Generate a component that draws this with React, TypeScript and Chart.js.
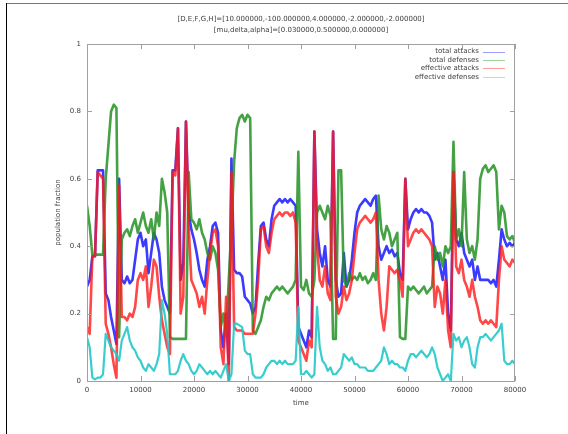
import React, { useEffect, useRef } from "react";
import { Chart, registerables } from "chart.js";
Chart.register(...registerables);

const STEP = 500; // time spacing of the samples below (0 .. 80000)

const totalAttacks = [
  0.28, 0.30, 0.37, 0.37, 0.625, 0.625, 0.625, 0.26, 0.24, 0.19,
  0.15, 0.11, 0.60, 0.30, 0.29, 0.31, 0.29, 0.30, 0.36, 0.42,
  0.44, 0.40, 0.42, 0.32, 0.38, 0.44, 0.42, 0.38, 0.28, 0.24,
  0.22, 0.20, 0.625, 0.625, 0.75, 0.30, 0.35, 0.77, 0.50, 0.45,
  0.42, 0.38, 0.33, 0.30, 0.28, 0.36, 0.40, 0.46, 0.47, 0.44,
  0.15, 0.10, 0.20, 0.05, 0.66, 0.33, 0.32, 0.32, 0.31, 0.25,
  0.24, 0.23, 0.20, 0.22, 0.35, 0.46, 0.47, 0.42, 0.40, 0.48,
  0.52, 0.53, 0.54, 0.53, 0.54, 0.53, 0.54, 0.53, 0.52, 0.16,
  0.14, 0.12, 0.10, 0.15, 0.13, 0.74, 0.45, 0.38, 0.34, 0.40,
  0.30, 0.28, 0.74, 0.30, 0.25, 0.26, 0.38, 0.28, 0.30, 0.36,
  0.44, 0.50, 0.52, 0.53, 0.54, 0.53, 0.52, 0.54, 0.55, 0.40,
  0.36, 0.38, 0.40, 0.38, 0.39, 0.37, 0.38, 0.32, 0.30, 0.60,
  0.45, 0.48, 0.50, 0.51, 0.50, 0.51, 0.50, 0.50, 0.49, 0.47,
  0.36, 0.38, 0.34, 0.30, 0.36, 0.20, 0.15, 0.62, 0.42, 0.40,
  0.44, 0.38, 0.36, 0.34, 0.36, 0.30, 0.34, 0.30, 0.30, 0.30,
  0.30, 0.29, 0.30, 0.28, 0.36, 0.45, 0.42, 0.40, 0.41, 0.40,
  0.41,
];

const totalDefenses = [
  0.52, 0.46, 0.375, 0.375, 0.375, 0.375, 0.375, 0.60, 0.70, 0.80,
  0.82, 0.81, 0.13, 0.42, 0.44, 0.45, 0.43, 0.46, 0.48, 0.44,
  0.47, 0.50, 0.46, 0.44, 0.48, 0.42, 0.50, 0.46, 0.60, 0.56,
  0.50, 0.13, 0.125, 0.125, 0.125, 0.125, 0.125, 0.125, 0.62, 0.48,
  0.47, 0.45, 0.48, 0.44, 0.42, 0.38, 0.36, 0.40, 0.38, 0.33,
  0.16, 0.20, 0.14, 0.30, 0.45, 0.65, 0.75, 0.78, 0.79, 0.77,
  0.79, 0.78, 0.15, 0.14, 0.16, 0.18, 0.22, 0.25, 0.24, 0.26,
  0.27, 0.28, 0.27, 0.28, 0.27, 0.26, 0.27, 0.28, 0.30, 0.68,
  0.28, 0.27, 0.30, 0.26, 0.25, 0.30, 0.50, 0.52, 0.50, 0.48,
  0.52, 0.49, 0.125, 0.125, 0.625, 0.625, 0.30, 0.28, 0.32, 0.30,
  0.31, 0.30, 0.32, 0.30, 0.31, 0.29, 0.30, 0.32, 0.30, 0.55,
  0.45, 0.42, 0.46, 0.44, 0.40, 0.42, 0.44, 0.13, 0.125, 0.125,
  0.28, 0.27, 0.28, 0.27, 0.26, 0.27, 0.28, 0.26, 0.27, 0.28,
  0.40, 0.36, 0.38, 0.34, 0.40, 0.38, 0.40, 0.71, 0.42, 0.45,
  0.40, 0.62, 0.42, 0.38, 0.40, 0.36, 0.42, 0.60, 0.63, 0.64,
  0.62, 0.63, 0.64, 0.62, 0.45, 0.52, 0.50, 0.43, 0.42, 0.43,
  0.41,
];

const effectiveAttacks = [
  0.16, 0.14, 0.37, 0.37, 0.62, 0.61, 0.60, 0.17, 0.14, 0.10,
  0.05, 0.01, 0.58, 0.19, 0.19, 0.18, 0.20, 0.19, 0.22, 0.30,
  0.32, 0.30, 0.34, 0.22, 0.28, 0.36, 0.34, 0.25, 0.18, 0.14,
  0.10, 0.08, 0.62, 0.61, 0.75, 0.20, 0.25, 0.77, 0.46, 0.30,
  0.28, 0.26, 0.22, 0.25, 0.20, 0.30, 0.38, 0.44, 0.45, 0.40,
  0.10, 0.05, 0.25, 0.00, 0.62, 0.16, 0.15, 0.15, 0.15, 0.14,
  0.14, 0.14, 0.14, 0.20, 0.30, 0.45, 0.46, 0.40, 0.38, 0.44,
  0.48, 0.49, 0.50, 0.49, 0.50, 0.50, 0.49, 0.50, 0.47, 0.12,
  0.10, 0.08, 0.06, 0.12, 0.10, 0.74, 0.40, 0.30, 0.28, 0.34,
  0.26, 0.24, 0.74, 0.25, 0.20, 0.22, 0.28, 0.24, 0.26, 0.30,
  0.38, 0.45, 0.47, 0.48, 0.49, 0.48, 0.47, 0.48, 0.50, 0.30,
  0.20, 0.15, 0.22, 0.34, 0.33, 0.32, 0.33, 0.30, 0.25, 0.60,
  0.40, 0.42, 0.44, 0.45, 0.44, 0.45, 0.44, 0.43, 0.42, 0.40,
  0.22, 0.28, 0.26, 0.20, 0.30, 0.15, 0.10, 0.62, 0.34, 0.32,
  0.36, 0.30, 0.28, 0.25, 0.30, 0.25, 0.22, 0.18, 0.17, 0.18,
  0.17, 0.18, 0.17, 0.16, 0.30, 0.40, 0.36, 0.35, 0.34, 0.36,
  0.35,
];

const effectiveDefenses = [
  0.13, 0.10, 0.01, 0.005, 0.01, 0.01, 0.02, 0.14, 0.12, 0.10,
  0.09, 0.08, 0.06, 0.12, 0.14, 0.16, 0.12, 0.10, 0.09, 0.07,
  0.06, 0.04, 0.03, 0.05, 0.04, 0.03, 0.05, 0.08, 0.24, 0.20,
  0.14, 0.02, 0.02, 0.02, 0.03, 0.06, 0.08, 0.06, 0.05, 0.03,
  0.02, 0.03, 0.05, 0.04, 0.03, 0.02, 0.03, 0.02, 0.03, 0.02,
  0.01, 0.03, 0.05, 0.00, 0.02, 0.17, 0.17, 0.165, 0.16, 0.09,
  0.08, 0.08, 0.02, 0.01, 0.01, 0.01, 0.02, 0.04, 0.05, 0.06,
  0.06, 0.05, 0.06, 0.05, 0.06, 0.05, 0.05, 0.05, 0.06, 0.22,
  0.02, 0.02, 0.03, 0.02, 0.01, 0.02, 0.22, 0.10, 0.06, 0.05,
  0.03, 0.04, 0.02, 0.02, 0.03, 0.04, 0.08, 0.07, 0.06, 0.07,
  0.05, 0.05, 0.04, 0.04, 0.04, 0.03, 0.03, 0.03, 0.04, 0.05,
  0.06, 0.10, 0.08, 0.05, 0.06, 0.05, 0.05, 0.04, 0.04, 0.03,
  0.06, 0.08, 0.08, 0.07, 0.08, 0.09, 0.08, 0.07, 0.08, 0.10,
  0.08, 0.04, 0.02, 0.00, 0.01, 0.02, 0.00, 0.14, 0.12, 0.13,
  0.10, 0.12, 0.13, 0.10, 0.05, 0.04, 0.10, 0.13, 0.13, 0.14,
  0.13, 0.12, 0.13, 0.14, 0.15, 0.17, 0.06, 0.05, 0.05, 0.06,
  0.05,
];

const seriesLabels = ["total attacks", "total defenses", "effective attacks", "effective defenses"];
const seriesColors = ["rgba(25,25,255,0.85)", "rgba(35,145,35,0.85)", "rgba(255,25,25,0.8)", "rgba(35,200,200,0.9)"];
const legendColors = ["#9d9dff", "#9fd39f", "#ff9d9d", "#a6e6e6"];
const titleLines = [
  "[D,E,F,G,H]=[10.000000,-100.000000,4.000000,-2.000000,-2.000000]",
  "[mu,delta,alpha]=[0.030000,0.500000,0.000000]",
];
const xTickValues = [0, 10000, 20000, 30000, 40000, 50000, 60000, 70000, 80000];
const yTickValues = [0, 0.2, 0.4, 0.6, 0.8, 1];
const xAxisTitle = "time";
const yAxisTitle = "population fraction";

const FONT = '"DejaVu Sans", sans-serif';
const TEXT = "#404040";

export default function App() {
  const ref = useRef<HTMLCanvasElement>(null);

  useEffect(() => {
    const canvas = ref.current;
    if (!canvas) return;
    const all = [totalAttacks, totalDefenses, effectiveAttacks, effectiveDefenses];
    const toPts = (vals: number[]) => vals.map((v, i) => ({ x: i * STEP, y: v }));

    const gnuplotLook = {
      id: "gnuplotLook",
      afterDraw(chart: any) {
        const { ctx, chartArea: a, scales } = chart;
        ctx.save();
        ctx.strokeStyle = "#a0a0a0";
        ctx.lineWidth = 1;
        ctx.strokeRect(a.left + 0.5, a.top + 0.5, a.right - a.left - 1, a.bottom - a.top);
        ctx.beginPath();
        xTickValues.forEach((v) => {
          const px = Math.round(scales.x.getPixelForValue(v)) + 0.5;
          ctx.moveTo(px, a.bottom);
          ctx.lineTo(px, a.bottom - 5);
          ctx.moveTo(px, a.top);
          ctx.lineTo(px, a.top + 5);
        });
        yTickValues.forEach((v) => {
          const py = Math.round(scales.y.getPixelForValue(v)) + 0.5;
          ctx.moveTo(a.left, py);
          ctx.lineTo(a.left + 5, py);
          ctx.moveTo(a.right, py);
          ctx.lineTo(a.right - 5, py);
        });
        ctx.stroke();

        ctx.fillStyle = TEXT;
        ctx.font = `7px ${FONT}`;
        ctx.textBaseline = "middle";
        ctx.textAlign = "center";
        const cx = (a.left + a.right) / 2;
        ctx.fillText(titleLines[0], cx, 19.5);
        ctx.fillText(titleLines[1], cx, 30);
        ctx.fillText(xAxisTitle, cx, 403);
        ctx.save();
        ctx.translate(58.5, (a.top + a.bottom) / 2);
        ctx.rotate(-Math.PI / 2);
        ctx.fillText(yAxisTitle, 0, 0);
        ctx.restore();

        ctx.textAlign = "right";
        seriesLabels.forEach((lab, i) => {
          const y = 51.5 + i * 8.4;
          ctx.fillStyle = TEXT;
          ctx.fillText(lab, 479, y);
          ctx.strokeStyle = legendColors[i];
          ctx.lineWidth = 1;
          ctx.beginPath();
          ctx.moveTo(483, Math.round(y) + 0.5);
          ctx.lineTo(505, Math.round(y) + 0.5);
          ctx.stroke();
        });
        ctx.restore();
      },
    };

    const orders = [4, 3, 2, 1];
    const widths = [2.6, 2.6, 2.6, 2.2];
    const chart = new Chart(canvas, {
      type: "line",
      data: {
        datasets: all.map((vals, i) => ({
          label: seriesLabels[i],
          data: toPts(vals),
          borderColor: seriesColors[i],
          backgroundColor: seriesColors[i],
          borderWidth: widths[i],
          borderJoinStyle: "round",
          pointRadius: 0,
          tension: 0,
          fill: false,
          order: orders[i],
        })),
      },
      options: {
        responsive: false,
        animation: false,
        devicePixelRatio: 1,
        layout: { padding: { left: 0, right: 53, top: 44, bottom: 0 } },
        plugins: { legend: { display: false }, tooltip: { enabled: false }, title: { display: false } },
        scales: {
          x: {
            type: "linear",
            min: 0,
            max: 80000,
            afterFit: (s: any) => { s.height = 53; },
            afterBuildTicks: (s: any) => { s.ticks = xTickValues.map((v) => ({ value: v })); },
            grid: { display: false, drawTicks: false },
            border: { display: false },
            ticks: {
              padding: 5,
              maxRotation: 0,
              autoSkip: false,
              color: TEXT,
              font: { family: FONT, size: 7 },
              callback: (v: any) => String(v),
            },
          },
          y: {
            type: "linear",
            min: 0,
            max: 1,
            afterFit: (s: any) => { s.width = 87; },
            afterBuildTicks: (s: any) => { s.ticks = yTickValues.map((v) => ({ value: v })); },
            grid: { display: false, drawTicks: false },
            border: { display: false },
            ticks: {
              padding: 6,
              autoSkip: false,
              color: TEXT,
              font: { family: FONT, size: 7 },
              callback: (v: any) => String(Math.round(v * 10) / 10),
            },
          },
        },
      },
      plugins: [gnuplotLook],
    } as any);
    return () => chart.destroy();
  }, []);

  return (
    <div style={{ position: "fixed", left: 0, top: 0, width: 568, height: 434, background: "#fff" }}>
      <canvas ref={ref} width={568} height={434} style={{ position: "absolute", left: 0, top: 0, width: 568, height: 434 }} />
      <div style={{ position: "absolute", left: 6, top: 3, width: 562, height: 1, background: "#777" }} />
      <div style={{ position: "absolute", left: 6, top: 3, width: 1, height: 431, background: "#000" }} />
    </div>
  );
}
